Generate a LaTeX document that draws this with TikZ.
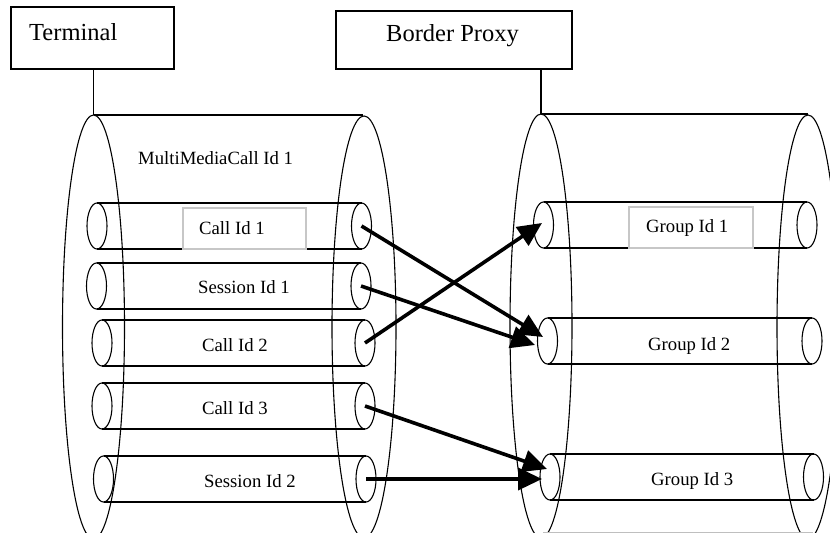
\documentclass[tikz,border=0pt]{standalone}
\usepackage{fontspec}
\setmainfont{Liberation Serif}
\usetikzlibrary{arrows.meta,shapes.geometric}
\begin{document}
\begin{tikzpicture}[x=1bp,y=-1bp,
  cyl/.style={line width=1.1bp},
  tubeend/.style={draw, ellipse, line width=1.1bp, minimum width=20bp, minimum height=46bp, inner sep=0},
  box/.style={draw, line width=1.3bp, inner sep=0},
  tag/.style={draw=black!22, line width=1.2bp, inner sep=0},
  bigtxt/.style={font=\fontsize{24.5bp}{28bp}\selectfont, inner sep=0, anchor=base west},
  txt/.style={font=\fontsize{18.7bp}{22bp}\selectfont, inner sep=0, anchor=base west},
  link/.style={line width=3.6bp, -{Triangle[length=24bp,width=22bp]}},
]
\useasboundingbox (0,0) rectangle (830,533);
\clip (0,0) rectangle (830,533);

% a tube: left end, right end, and the two sides joining them
\newcommand\tube[4]{% name, left x, right x, centre y
  \node[tubeend] (#1l) at (#2,#4) {};
  \node[tubeend] (#1r) at (#3,#4) {};
  \draw[cyl] (#2,#4-23) -- (#3,#4-23) (#2,#4+23) -- (#3,#4+23);
}

% entities on top
\node[box, minimum width=163bp, minimum height=62bp] (terminal) at (92.5,38) {};
\node[bigtxt] (terminaltxt) at (29,41) {Terminal};
\node[box, minimum width=236bp, minimum height=58bp] (proxy) at (454,40) {};
\node[bigtxt] (proxytxt) at (386,42) {Border Proxy};

% large cylinder on the terminal side
\coordinate (ltop) at (93.5,115);
\draw[cyl] (93.5,327) ellipse [x radius=31bp, y radius=212bp];
\draw[cyl] (364,327) ellipse [x radius=32bp, y radius=211bp];
\draw[cyl] (ltop) -- (363,115);
\draw[cyl] (ltop |- terminal.south) -- (ltop);
\node[txt] (mmc) at (138,165) {MultiMediaCall Id 1};

% large cylinder on the proxy side
\coordinate (rtop) at (541,114);
\draw[cyl] (541,326) ellipse [x radius=31bp, y radius=212bp];
\draw[cyl] (808,327) ellipse [x radius=31bp, y radius=212bp];
\draw[cyl] (rtop) -- (808,114);
\draw[cyl] (rtop |- proxy.south) -- (rtop);
\draw[black!25, line width=1bp] (543,532) -- (813,532);

% tubes inside the terminal cylinder
\tube{ca}{97}{361.5}{226}
\node[tag, minimum width=123bp, minimum height=41bp] (catag) at (244.5,228.5) {};
\node[txt] (catxt) at (199,235) {Call Id 1};
\tube{sa}{96.5}{361}{286}
\node[txt] (satxt) at (198,294) {Session Id 1};
\tube{cb}{102}{365}{343}
\node[txt] (cbtxt) at (202,351) {Call Id 2};
\tube{cc}{102}{365}{406}
\node[txt] (cctxt) at (202,414) {Call Id 3};
\tube{sb}{103.5}{366}{479}
\node[txt] (sbtxt) at (204,487) {Session Id 2};

% tubes inside the proxy cylinder
\tube{ga}{543.5}{807}{225}
\node[tag, minimum width=124bp, minimum height=41bp] (gatag) at (691,227.5) {};
\node[txt] (gatxt) at (646,233) {Group Id 1};
\tube{gb}{547.5}{812}{341}
\node[txt] (gbtxt) at (648,350) {Group Id 2};
\tube{gc}{550}{813.5}{477}
\node[txt] (gctxt) at (651,485) {Group Id 3};

% mappings between calls/sessions and groups
\draw[link] (car.center) -- ([shift={(-4.5,-4)}]gbl.center);
\draw[link] (sar.center) -- ([shift={(-12.5,4)}]gbl.center);
\draw[link] (cbr.center) -- ([shift={(-1.5,-2)}]gal.center);
\draw[link] (ccr.center) -- ([shift={(-3,-8)}]gcl.center);
\draw[link] (sbr.center) -- ([shift={(-8,2)}]gcl.center);
\end{tikzpicture}
\end{document}
